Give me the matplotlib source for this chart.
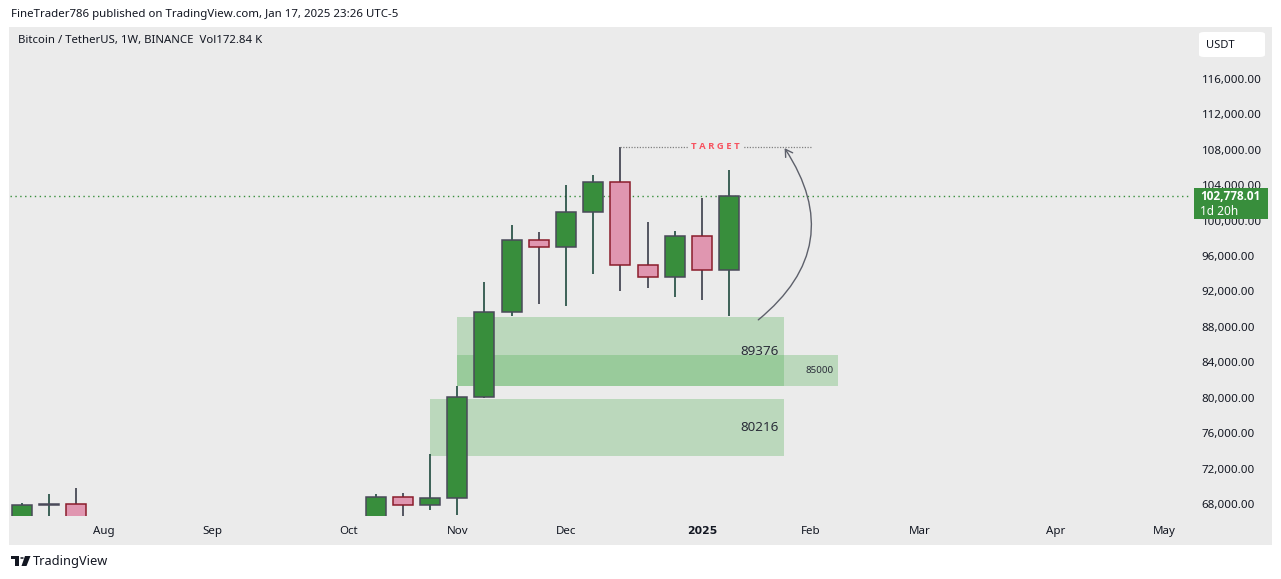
import pandas as pd
import numpy as np
import matplotlib.pyplot as plt
from matplotlib.patches import Rectangle, FancyBboxPatch, FancyArrowPatch, Circle, Polygon

plt.rcParams['font.family'] = ['Noto Sans', 'DejaVu Sans']
BOLD = ['Open Sans', 'DejaVu Sans']

# weekly BTC/USDT candles (only those inside the visible price range)
weeks = ["2024-07-15", "2024-07-22", "2024-07-29",
         "2024-10-14", "2024-10-21", "2024-10-28", "2024-11-04", "2024-11-11",
         "2024-11-18", "2024-11-25", "2024-12-02", "2024-12-09", "2024-12-16",
         "2024-12-23", "2024-12-30", "2025-01-06", "2025-01-13"]
opens  = [60800, 67880, 67960, 62850, 68760, 67850, 68660, 80130, 89650,
          97780, 96990, 100950, 104330, 94960, 93600, 98230, 94400]
highs  = [68150, 69100, 69780, 69100, 69210, 73650, 81330, 93110, 99510,
          98720, 104030, 105160, 108320, 99880, 98830, 102560, 105720]
lows   = [60600, 63450, 57120, 62000, 65260, 67320, 66760, 80000, 89270,
          90620, 90400, 94010, 92090, 92440, 91420, 91070, 89230]
closes = [67880, 67960, 58160, 68760, 67850, 68660, 80130, 89650, 97780,
          96990, 100950, 104330, 94960, 93600, 98230, 94400, 102778.01]

last_price = 102778.01

# time axis labels
month_dates = ["2024-08-05", "2024-09-02", "2024-10-07", "2024-11-04", "2024-12-02",
               "2025-01-06", "2025-02-03", "2025-03-03", "2025-04-07", "2025-05-05"]
month_labels = ["Aug", "Sep", "Oct", "Nov", "Dec", "2025", "Feb", "Mar", "Apr", "May"]

price_ticks = np.arange(68000, 116001, 4000)

# zones drawn by the author
zone_start = ["2024-11-04", "2024-10-28", "2024-11-04"]
zone_end   = ["2025-01-27", "2025-01-27", "2025-02-10"]
zone_top   = [89120, 79860, 84830]
zone_bot   = [81330, 73450, 81330]
zone_label = ["89376", "80216", "85000"]

target_price = 108320
target_from, target_to = "2024-12-16", "2025-02-03"

# %%
base = pd.Timestamp("2024-07-15")
def wk(d):
    return (pd.Timestamp(d) - base).days / 7

xs = np.array([wk(d) for d in weeks])
o, h, l, c = map(np.array, (opens, highs, lows, closes))

W, H = 1281, 579
fig = plt.figure(figsize=(W / 100, H / 100), dpi=100)
fig.patch.set_facecolor("white")
def fx(x): return x / W
def fy(y): return 1 - y / H

# gray chart background
fig.patches.append(Rectangle((fx(9), fy(545)), fx(1272) - fx(9), fy(27) - fy(545),
                             transform=fig.transFigure, facecolor="#ebebeb", edgecolor="none", zorder=-5))

ax = fig.add_axes([fx(10), fy(516), fx(1190) - fx(10), fy(27) - fy(516)])
ax.set_facecolor("none")
ax.set_xlim(-0.441, 42.94)
ax.set_ylim(66644, 121873)
for s in ax.spines.values():
    s.set_visible(False)

# candles
up = c >= o
bw = 0.74
ax.vlines(xs[up], l[up], h[up], color="#0d3b2e", lw=1.1, zorder=2)
ax.vlines(xs[~up], l[~up], h[~up], color="#2b2d3b", lw=1.1, zorder=2)
ax.bar(xs[up], c[up] - o[up], bw, bottom=o[up], color="#388e3c", edgecolor="#4a4a5a", lw=1.1, zorder=3)
ax.bar(xs[~up], o[~up] - c[~up], bw, bottom=c[~up], color="#e096b0", edgecolor="#8b1c2b", lw=1.1, zorder=3)

# zones
for s0, s1, t, b, lab in zip(zone_start, zone_end, zone_top, zone_bot, zone_label):
    x0, x1 = wk(s0), wk(s1)
    ax.add_patch(Rectangle((x0, b), x1 - x0, t - b, facecolor="#4caf50", alpha=0.3, edgecolor="none", zorder=1))
    fs = 7 if lab == "85000" else 9.7
    ax.text(x1 - 0.17, (t + b) / 2, lab, ha="right", va="center", fontsize=fs, color="#2a2e39", zorder=4)

# last price line
ax.axhline(last_price, color="#388e3c", lw=1, linestyle=(0, (1, 2.5)), zorder=1)

# target line + arrow
ax.hlines(target_price, wk(target_from), wk(target_to), color="#808080", lw=0.9, linestyle=(0, (1, 1.2)), zorder=2)
ax.text((wk(target_from) + wk(target_to)) / 2, target_price, "T A R G E T", ha="center", va="center",
        fontsize=6.8, color="#f7525f", fontweight="bold", family=BOLD, zorder=4,
        bbox=dict(facecolor="#ebebeb", edgecolor="none", pad=2))
ax.add_patch(FancyArrowPatch((26.99, 88600), (27.98, 108450), connectionstyle="arc3,rad=0.46",
                             arrowstyle="->,head_length=5,head_width=3", color="#5d606b", lw=1, zorder=4))

# axes ticks
ax.yaxis.tick_right()
ax.set_yticks(price_ticks)
ax.set_yticklabels([f"{v:,.2f}" for v in price_ticks])
ax.set_xticks([wk(d) for d in month_dates])
ax.set_xticklabels(month_labels)
ax.tick_params(axis="y", length=0, pad=8.5, labelsize=8.3, labelcolor="#131722")
ax.tick_params(axis="x", length=0, pad=7, labelsize=8.3, labelcolor="#131722")
ax.get_xticklabels()[5].set_fontweight("bold")
ax.get_xticklabels()[5].set_family(["DejaVu Sans"])
ax.get_xticklabels()[5].set_fontsize(7.8)

# price label on the axis
yt = ax.get_yaxis_transform()
ax.add_patch(Rectangle(((1194 - 10) / 1180, last_price - 2550), 74 / 1180, 3500, transform=yt,
                       facecolor="#388e3c", edgecolor="none", clip_on=False, zorder=5))
ax.text((1200 - 10) / 1180, last_price - 50, f"{last_price:,.2f}", transform=yt, color="white",
        fontsize=8.5, fontweight="bold", family=BOLD, va="center", ha="left", clip_on=False, zorder=6)
ax.text((1200 - 10) / 1180, last_price - 1700, "1d 20h", transform=yt, color="white",
        fontsize=8.5, va="center", ha="left", clip_on=False, zorder=6)

# header and labels
fig.patches.append(FancyBboxPatch((fx(1199), fy(57)), fx(1265) - fx(1199), fy(32) - fy(57),
                                  boxstyle="round,pad=0,rounding_size=0.004", transform=fig.transFigure,
                                  facecolor="white", edgecolor="none", zorder=1))
fig.text(fx(1206), fy(45), "USDT", fontsize=8, color="#131722", va="center")
fig.text(fx(11), fy(14), "FineTrader786 published on TradingView.com, Jan 17, 2025 23:26 UTC-5",
         fontsize=8.25, color="#131722", va="center")
fig.text(fx(18), fy(41), "Bitcoin / TetherUS, 1W, BINANCE  Vol172.84 K", fontsize=8.2, color="#131722", va="center")

# TradingView logo
for p in [Rectangle((fx(11), fy(559)), fx(8), fy(0) - fy(3)),
          Rectangle((fx(15), fy(566)), fx(4), fy(0) - fy(10)),
          Polygon([(fx(25), fy(556)), (fx(30.5), fy(556)), (fx(26.5), fy(566)), (fx(21.5), fy(566))])]:
    p.set_transform(fig.transFigure)
    p.set_facecolor("#131722")
    fig.patches.append(p)
dot = Circle((fx(22), fy(558)), fx(1.8), transform=fig.transFigure, facecolor="#131722")
fig.patches.append(dot)
fig.text(fx(33), fy(561), "TradingView", fontsize=9.2, color="#131722", va="center")

plt.savefig("out.png", dpi=100)
